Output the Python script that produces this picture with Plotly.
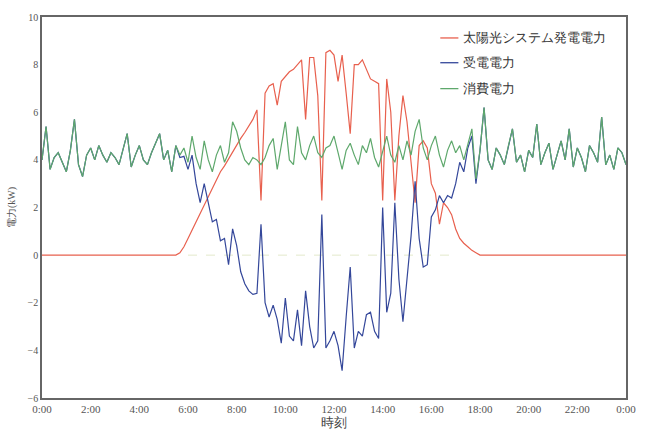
import plotly.graph_objects as go

# time grid: every 10 minutes from 0:00 to 24:00 (145 points), in hours
step_minutes = 10
hours = [i * step_minutes / 60 for i in range(145)]

# 太陽光システム発電電力 (kW)
solar = [0.0] * 34 + [
    0.1, 0.35, 0.7, 1.05, 1.4, 1.75, 2.1, 2.5, 2.85, 3.2,      # 34-43
    3.5, 3.75, 4.05, 4.3, 4.6, 4.9, 5.15, 5.45, 5.7, 6.1,      # 44-53
    2.3, 6.8, 7.1, 7.2, 6.3, 7.3, 7.5, 7.7, 7.8, 8.0,          # 54-63
    8.2, 5.7, 8.3, 8.3, 6.7, 2.3, 8.5, 8.6, 8.4, 7.3,          # 64-73
    8.4, 6.8, 5.1, 8.0, 8.0, 8.2, 7.8, 7.4, 7.3, 7.2,          # 74-83
    2.3, 7.4, 6.0, 2.3, 5.0, 6.7, 5.6, 3.8, 2.2, 4.6,          # 84-93
    4.8, 4.5, 3.0, 2.6, 1.3, 2.2, 2.0, 1.7, 1.1, 0.7,          # 94-103
    0.5, 0.35, 0.2, 0.1,                                       # 104-107
] + [0.0] * 37

# 消費電力 (kW)
consumption = [
    4.0, 5.4, 3.6, 4.1, 4.3, 3.9, 3.5, 4.4, 5.7, 3.8,          # 0-9
    3.3, 4.2, 4.5, 4.0, 4.6, 4.2, 3.9, 4.3, 4.1, 3.8,          # 10-19
    4.4, 5.1, 3.7, 4.2, 4.6, 4.0, 3.8, 4.3, 4.7, 5.1,          # 20-29
    4.0, 4.4, 3.5, 4.6, 4.2, 4.5, 3.9, 5.0, 4.1, 3.6,          # 30-39
    4.8, 4.0, 3.5, 4.2, 4.6, 3.9, 4.3, 5.6, 5.2, 4.5,          # 40-49
    4.0, 3.8, 4.1, 4.0, 3.8, 4.1, 4.6, 4.9, 3.6, 4.7,          # 50-59
    5.6, 4.0, 3.8, 5.4, 4.3, 4.0, 4.6, 5.0, 4.3, 4.1,          # 60-69
    4.5, 4.6, 5.0, 4.3, 3.6, 4.4, 4.7, 4.2, 3.8, 4.6,          # 70-79
    4.3, 4.9, 4.1, 3.7, 4.4, 5.0, 4.2, 3.9, 4.6, 4.0,          # 80-89
    4.8, 4.2, 5.2, 5.7, 4.5, 4.0, 4.6, 5.0, 4.2, 3.7,          # 90-99
    4.4, 4.8, 4.3, 4.6, 4.0, 4.7, 5.3, 3.2, 4.4, 6.2,          # 100-109
    4.0, 3.6, 4.5, 4.2, 3.8, 4.6, 5.3, 3.9, 4.2, 3.5,          # 110-119
    4.4, 4.1, 5.5, 3.8, 4.3, 4.7, 3.6, 4.2, 4.8, 4.0,          # 120-129
    5.3, 3.7, 4.5, 4.1, 3.5, 4.6, 4.3, 3.9, 5.8, 3.8,          # 130-139
    4.2, 3.6, 4.5, 4.3, 3.8,                                   # 140-144
]

# 受電電力 (kW)
received = consumption[:34] + [
    4.1, 4.15, 3.6, 4.2, 3.0, 2.2, 3.0, 2.2, 1.4, 1.5,         # 34-43
    0.6, 0.7, -0.4, 1.1, 0.4, -0.7, -1.2, -1.5, -1.65, -1.6,   # 44-53
    1.3, -2.0, -2.6, -2.1, -2.7, -3.7, -1.8, -3.4, -3.6, -2.3, # 54-63
    -3.8, -1.5, -3.0, -3.9, -3.6, 1.7, -3.9, -3.6, -3.2, -3.8, # 64-73
    -4.85, -2.6, -0.5, -3.9, -3.2, -3.4, -2.5, -2.4, -3.2, -3.5, # 74-83
    2.0, -2.4, -1.6, 2.2, -1.0, -2.8, -1.0, 0.8, 3.1, 0.7,     # 84-93
    -0.5, -0.4, 1.6, 1.9, 2.5, 2.2, 2.5, 2.4, 3.0, 3.9,        # 94-103
    3.5, 4.5, 5.0, 3.0, 4.4,                                   # 104-108
] + consumption[109:]

# faint near-zero trace visible along the 0 line during daytime
faint_hours = [6.0, 17.0]
faint_values = [0.0, 0.0]

series_names = ["太陽光システム発電電力", "受電電力", "消費電力"]
series_colors = ["#e8604e", "#34479a", "#5ea86c"]

x_tick_values = list(range(0, 25, 2))
x_tick_labels = ["0:00", "2:00", "4:00", "6:00", "8:00", "10:00", "12:00",
                 "14:00", "16:00", "18:00", "20:00", "22:00", "0:00"]
y_tick_values = [-6, -4, -2, 0, 2, 4, 6, 8, 10]

font_family = "Times New Roman, Liberation Serif, serif"

fig = go.Figure()
fig.add_trace(go.Scatter(x=faint_hours, y=faint_values, mode="lines",
                         line=dict(color="rgba(220,228,190,0.8)", width=1, dash="dash"),
                         showlegend=False, hoverinfo="skip"))
for name, values, color in zip(series_names, [solar, received, consumption], series_colors):
    fig.add_trace(go.Scatter(x=hours, y=values, mode="lines", name=name,
                             line=dict(color=color, width=1.2), showlegend=False))

# manual legend (line sample + label) in the upper right of the plot
legend_y = [0.945, 0.880, 0.812]
for name, color, ly in zip(series_names, series_colors, legend_y):
    fig.add_shape(type="line", xref="paper", yref="paper",
                  x0=0.682, x1=0.713, y0=ly, y1=ly,
                  line=dict(color=color, width=1.3))
    fig.add_annotation(xref="paper", yref="paper", x=0.717, y=ly,
                       text=name, showarrow=False, xanchor="left", yanchor="middle",
                       font=dict(size=13, color="#333333", family=font_family))

fig.update_layout(
    width=647, height=439,
    margin=dict(l=41, r=11, t=12, b=41),
    paper_bgcolor="white", plot_bgcolor="white",
    font=dict(family=font_family, color="#555555", size=10),
    showlegend=False,
    xaxis=dict(range=[0, 24], tickvals=x_tick_values, ticktext=x_tick_labels,
               showgrid=False, zeroline=False, showline=True, linecolor="#666666",
               linewidth=1.5, mirror=True, ticks="",
               tickfont=dict(size=11, color="#555555", family=font_family),
               title=dict(text="時刻", font=dict(size=13, color="#444444", family=font_family), standoff=3)),
    yaxis=dict(range=[-6, 10], tickvals=y_tick_values,
               showgrid=False, zeroline=False, showline=True, linecolor="#666666",
               linewidth=1.5, mirror=True, ticks="",
               tickfont=dict(size=10, color="#555555", family=font_family),
               title=dict(text="電力(kW)", font=dict(size=10, color="#555555", family=font_family), standoff=10)),
)

fig.write_html("out.html", config={"displayModeBar": False},
               post_script="document.body.style.margin='0';")
